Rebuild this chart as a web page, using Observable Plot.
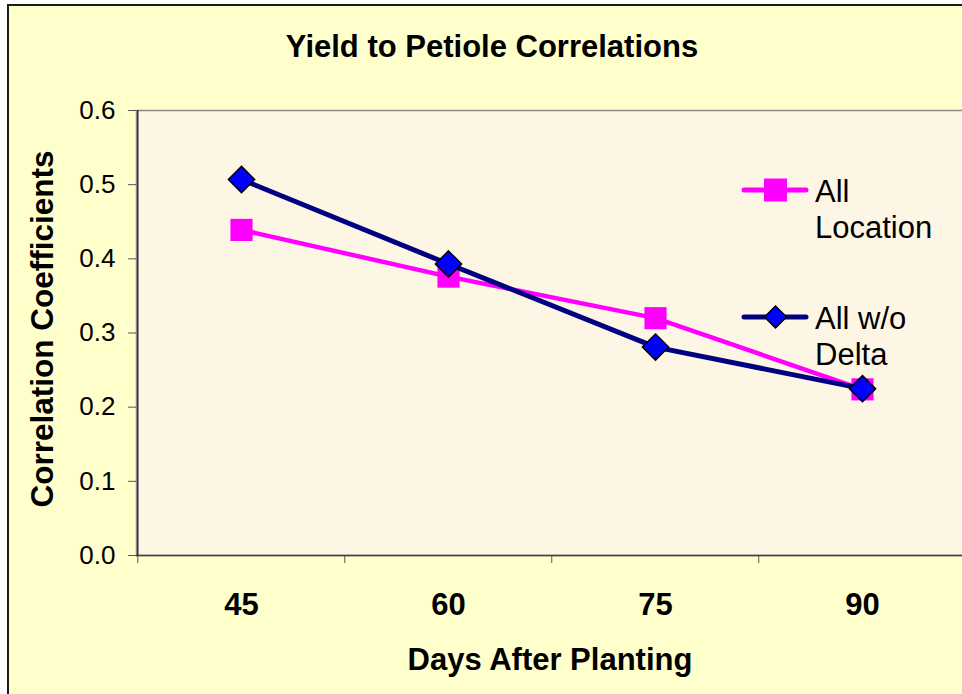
<!DOCTYPE html>
<html>
<head>
<meta charset="utf-8">
<script src="https://cdn.jsdelivr.net/npm/d3@7"></script>
<script src="https://cdn.jsdelivr.net/npm/@observablehq/plot@0.6"></script>
<style>
html, body { margin:0; padding:0; background:#ffffff; overflow:hidden; width:962px; height:694px; }
#chart { position:absolute; left:7px; top:4px; width:1000px; height:720px; background:#FFFFCC; border-left:2px solid #1a1a1a; border-top:2px solid #1a1a1a; }
#plot { position:absolute; left:0; top:0; width:1000px; height:694px; }
</style>
</head>
<body>
<div id="chart"></div>
<div id="plot"></div>
<script>
// ---- data ----
const days = ["45", "60", "75", "90"];
const allLocation = [0.439, 0.376, 0.320, 0.224];
const allWoDelta = [0.507, 0.393, 0.281, 0.225];
const yTicks = [0, 0.1, 0.2, 0.3, 0.4, 0.5, 0.6];
const legendLocation = ["All", "Location"];
const legendWoDelta = ["All w/o", "Delta"];
const titleText = "Yield to Petiole Correlations";
const xTitle = "Days After Planting";
const yTitle = "Correlation Coefficients";

const dataLoc = days.map((d, i) => ({day: d, value: allLocation[i]}));
const dataWo = days.map((d, i) => ({day: d, value: allWoDelta[i]}));

// ---- layout ----
const W = 970, H = 694, ML = 136, MT = 110, MR = 4, MB = 139;
const step = (W - ML - MR) / days.length;
const FONT = "Liberation Sans, Arial, Helvetica, sans-serif";
const PINK = "#FF00FF", NAVY = "#000080", BLUE = "#0000FF";

const svg = Plot.plot({
  width: W, height: H,
  marginLeft: ML, marginTop: MT, marginRight: MR, marginBottom: MB,
  style: {background: "transparent", fontFamily: FONT, overflow: "visible", maxWidth: "none", color: "#000"},
  x: {type: "point", domain: days, padding: 0.5, label: null},
  y: {domain: [0, 0.6], label: null},
  marks: [
    Plot.frame({fill: "#FEF6E4", stroke: "#8a8a8a", strokeWidth: 1.5}),
    Plot.axisY({ticks: yTicks, tickFormat: d3.format(".1f"), tickSize: 8, tickPadding: 13, fontSize: 26, label: null, stroke: "#555"}),
    Plot.axisX({tickSize: 8, tickFormat: () => "", dx: -step / 2, label: null, stroke: "#555"}),
    Plot.axisX({tickSize: 0, tickPadding: 37, fontSize: 31, fontWeight: "bold", label: null}),
    Plot.ruleY([0], {stroke: "#404040", strokeWidth: 1.5}),
    Plot.ruleX([days[0]], {dx: -step / 2, y1: 0, y2: 0.6, stroke: "#303030", strokeWidth: 1.5}),
    Plot.line(dataLoc, {x: "day", y: "value", stroke: PINK, strokeWidth: 4.5, strokeLinecap: "round"}),
    Plot.dot(dataLoc, {x: "day", y: "value", symbol: "square", r: 12.5, fill: PINK, stroke: "none"}),
    Plot.line(dataWo, {x: "day", y: "value", stroke: NAVY, strokeWidth: 5, strokeLinecap: "round"}),
    Plot.dot(dataWo, {x: "day", y: "value", symbol: "diamond2", r: 11.8, fill: BLUE, stroke: "#000", strokeWidth: 1.5})
  ]
});
document.getElementById("plot").appendChild(svg);

// ---- titles and legend ----
const s = d3.select(svg);
const g = s.append("g").attr("font-family", FONT).attr("fill", "#000").attr("text-anchor", "start");
g.append("text").attr("x", 492).attr("y", 57).attr("text-anchor", "middle")
  .attr("font-size", 31).attr("font-weight", "bold").text(titleText);
g.append("text").attr("x", 550).attr("y", 670).attr("text-anchor", "middle")
  .attr("font-size", 31).attr("font-weight", "bold").text(xTitle);
g.append("text").attr("transform", "translate(53,329) rotate(-90)").attr("text-anchor", "middle")
  .attr("font-size", 31.5).attr("font-weight", "bold").text(yTitle);

function legendItem(y, color, symbolType, symSize, fill, stroke, lines) {
  const lg = g.append("g");
  lg.append("line").attr("x1", 744).attr("x2", 806).attr("y1", y).attr("y2", y)
    .attr("stroke", color).attr("stroke-width", 5).attr("stroke-linecap", "round");
  lg.append("path").attr("transform", `translate(775.5,${y})`)
    .attr("d", d3.symbol(symbolType, symSize)())
    .attr("fill", fill).attr("stroke", stroke).attr("stroke-width", 1.5);
  lines.forEach((t, i) => {
    lg.append("text").attr("x", 815).attr("y", y + 12 + i * 36)
      .attr("text-anchor", "start").attr("font-size", 31).text(t);
  });
}
legendItem(190, PINK, d3.symbolSquare, 23 * 23, PINK, "none", legendLocation);
legendItem(317, NAVY, d3.symbolDiamond2, Math.pow(22 / 2 / 0.62625, 2), BLUE, "#000", legendWoDelta);
</script>
</body>
</html>
